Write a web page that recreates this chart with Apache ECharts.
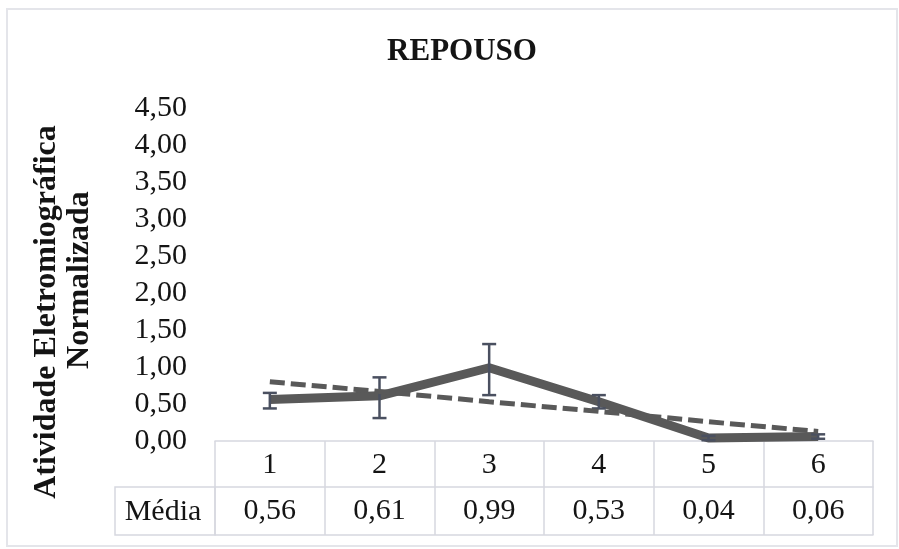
<!DOCTYPE html>
<html>
<head>
<meta charset="utf-8">
<script src="https://cdn.jsdelivr.net/npm/echarts@6/dist/echarts.min.js"></script>
<style>
html,body{margin:0;padding:0;background:#fff;}
#c{width:899px;height:549px;}
</style>
</head>
<body>
<div id="c"></div>
<script>
var categories = ['1', '2', '3', '4', '5', '6'];
var media = [0.56, 0.61, 0.99, 0.53, 0.04, 0.06];
var errMinus = [0.12, 0.30, 0.37, 0.09, 0.03, 0.03];
var errPlus = [0.09, 0.25, 0.32, 0.09, 0.03, 0.03];
var trend = [0.80, 0.67, 0.53, 0.40, 0.26, 0.13];
var rowLabel = 'Média';
var titleText = 'REPOUSO';
var yNameLines = ['Atividade Eletromiográfica', 'Normalizada'];

function fmt(v) { return v.toFixed(2).replace('.', ','); }

var FONT = 'Liberation Serif';
var BORDER = '#d6d8e0';
var TXT = '#141414';

var errData = categories.map(function (c, i) {
  return [i, media[i] - errMinus[i], media[i] + errPlus[i]];
});

var chart = echarts.init(document.getElementById('c'), null, {renderer: 'canvas'});
chart.setOption({
  backgroundColor: '#fff',
  animation: false,
  title: {
    text: titleText, left: 457, top: 31, textAlign: 'center',
    textStyle: {fontFamily: FONT, fontSize: 31, fontWeight: 'bold', color: TXT}
  },
  grid: {left: 215, right: 26, top: 108, bottom: 108},
  xAxis: [
    {
      type: 'category', data: categories, position: 'bottom', boundaryGap: true,
      axisLine: {show: true, lineStyle: {color: BORDER, width: 1.5}},
      axisTick: {show: true, interval: 0, length: 94, lineStyle: {color: BORDER, width: 1.5}},
      axisLabel: {margin: 9, fontFamily: FONT, fontSize: 30, color: TXT, interval: 0},
      splitLine: {show: false}
    },
    {
      type: 'category', data: media.map(fmt), position: 'bottom', offset: 46, boundaryGap: true,
      axisLine: {show: true, lineStyle: {color: BORDER, width: 1.5}},
      axisTick: {show: false},
      axisLabel: {margin: 9, fontFamily: FONT, fontSize: 30, color: TXT, interval: 0},
      splitLine: {show: false}
    },
    {
      type: 'category', data: categories, position: 'bottom', offset: 94, boundaryGap: true,
      axisLine: {show: true, lineStyle: {color: BORDER, width: 1.5}},
      axisTick: {show: false}, axisLabel: {show: false}, splitLine: {show: false}
    }
  ],
  yAxis: {
    type: 'value', min: 0, max: 4.5, interval: 0.5,
    axisLine: {show: false}, axisTick: {show: false}, splitLine: {show: false},
    axisLabel: {margin: 28, fontFamily: FONT, fontSize: 30, color: TXT, formatter: fmt}
  },
  graphic: [
    {type: 'rect', shape: {x: 7, y: 9, width: 890, height: 537},
     style: {fill: 'none', stroke: '#e4e5ea', lineWidth: 2}, z: -1},
    {type: 'rect', shape: {x: 115, y: 487, width: 100, height: 48},
     style: {fill: 'none', stroke: BORDER, lineWidth: 1.5}},
    {type: 'text', x: 163, y: 512,
     style: {text: rowLabel, font: '30px "' + FONT + '"', fill: TXT, textAlign: 'center', textVerticalAlign: 'middle'}},
    {type: 'text', x: 47, y: 312, rotation: Math.PI / 2,
     style: {text: yNameLines[0], font: 'bold 32px "' + FONT + '"', fill: TXT, textAlign: 'center', textVerticalAlign: 'middle'}},
    {type: 'text', x: 80, y: 280, rotation: Math.PI / 2,
     style: {text: yNameLines[1], font: 'bold 32px "' + FONT + '"', fill: TXT, textAlign: 'center', textVerticalAlign: 'middle'}}
  ],
  series: [
    {
      type: 'line', data: media, xAxisIndex: 0, symbol: 'none',
      lineStyle: {color: '#595959', width: 9}, z: 2
    },
    {
      type: 'custom', xAxisIndex: 0, data: errData, z: 3,
      renderItem: function (params, api) {
        var lo = api.coord([api.value(0), api.value(1)]);
        var hi = api.coord([api.value(0), api.value(2)]);
        var cap = 7;
        var st = {stroke: '#4a5060', lineWidth: 2.5};
        return {type: 'group', children: [
          {type: 'line', shape: {x1: lo[0], y1: lo[1], x2: hi[0], y2: hi[1]}, style: st},
          {type: 'line', shape: {x1: lo[0] - cap, y1: lo[1], x2: lo[0] + cap, y2: lo[1]}, style: st},
          {type: 'line', shape: {x1: hi[0] - cap, y1: hi[1], x2: hi[0] + cap, y2: hi[1]}, style: st}
        ]};
      }
    },
    {
      type: 'line', data: trend, xAxisIndex: 0, symbol: 'none', z: 4,
      lineStyle: {color: '#595959', width: 5, type: [15, 6]}
    }
  ]
});
</script>
</body>
</html>
